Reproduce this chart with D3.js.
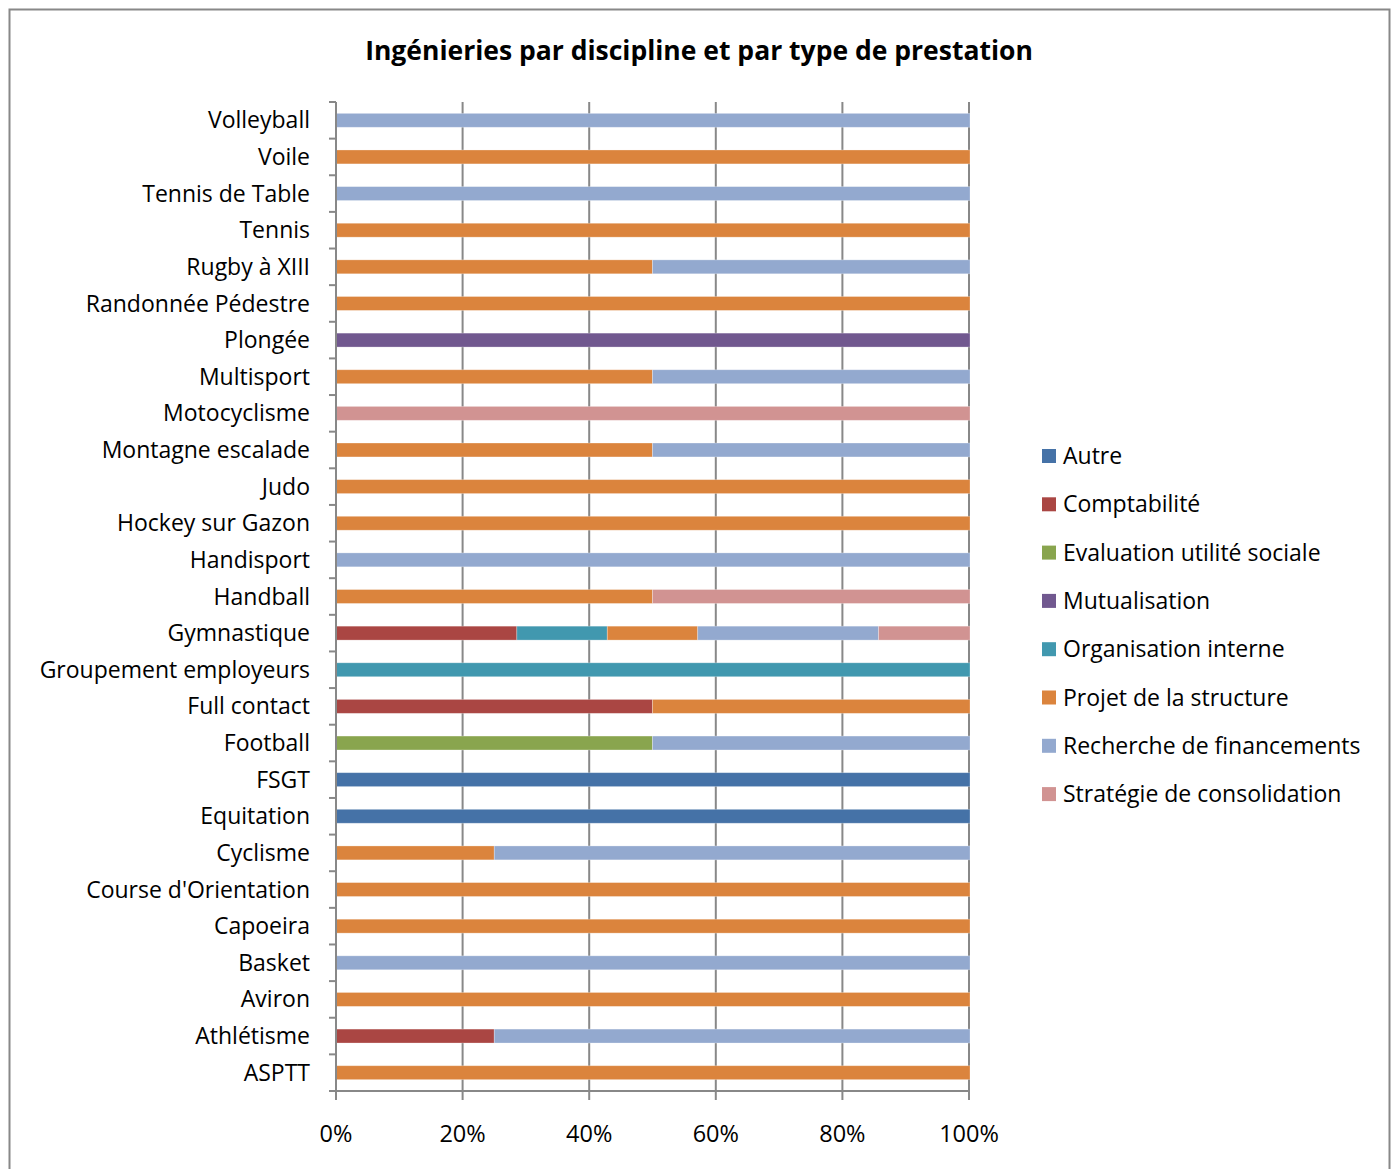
<!DOCTYPE html>
<html><head><meta charset="utf-8">
<script src="https://cdn.jsdelivr.net/npm/d3@7"></script>
<style>body{margin:0;background:#fff;} svg{display:block;}</style>
</head><body>
<svg id="c" width="1397" height="1169"></svg>
<script>
// Categories, top to bottom as drawn
const categories = ["Volleyball","Voile","Tennis de Table","Tennis","Rugby à XIII","Randonnée Pédestre","Plongée","Multisport","Motocyclisme","Montagne escalade","Judo","Hockey sur Gazon","Handisport","Handball","Gymnastique","Groupement employeurs","Full contact","Football","FSGT","Equitation","Cyclisme","Course d'Orientation","Capoeira","Basket","Aviron","Athlétisme","ASPTT"];
const seriesNames = ["Autre","Comptabilité","Evaluation utilité sociale","Mutualisation","Organisation interne","Projet de la structure","Recherche de financements","Stratégie de consolidation"];
// counts per category (same order as categories)
const autre          = [0,0,0,0,0,0,0,0,0,0,0,0,0,0,0,0,0,0,1,1,0,0,0,0,0,0,0];
const comptabilite   = [0,0,0,0,0,0,0,0,0,0,0,0,0,0,2,0,1,0,0,0,0,0,0,0,0,1,0];
const evaluation     = [0,0,0,0,0,0,0,0,0,0,0,0,0,0,0,0,0,1,0,0,0,0,0,0,0,0,0];
const mutualisation  = [0,0,0,0,0,0,1,0,0,0,0,0,0,0,0,0,0,0,0,0,0,0,0,0,0,0,0];
const organisation   = [0,0,0,0,0,0,0,0,0,0,0,0,0,0,1,1,0,0,0,0,0,0,0,0,0,0,0];
const projet         = [0,1,0,1,1,1,0,1,0,1,1,1,0,1,1,0,1,0,0,0,1,1,1,0,1,0,1];
const recherche      = [1,0,1,0,1,0,0,1,0,1,0,0,1,0,2,0,0,1,0,0,3,0,0,1,0,3,0];
const strategie      = [0,0,0,0,0,0,0,0,1,0,0,0,0,1,1,0,0,0,0,0,0,0,0,0,0,0,0];
const seriesValues = [autre,comptabilite,evaluation,mutualisation,organisation,projet,recherche,strategie];
const colors = ["#4572A7","#AA4643","#89A54E","#71588F","#4198AF","#DB843D","#93A9CF","#D19392"];
const xTicks = [0,0.2,0.4,0.6,0.8,1];

(function(){
const svg = d3.select("#c");
const font = "'Open Sans', sans-serif";
svg.append("rect").attr("x",9.5).attr("y",9.5).attr("width",1380).attr("height",1170)
  .attr("fill","#fff").attr("stroke","#888").attr("stroke-width",2);

svg.append("text").attr("x",699).attr("y",60).attr("text-anchor","middle")
  .attr("font-family",font).attr("font-weight","bold").attr("font-size",26.5)
  .attr("fill","#000").text("Ingénieries par discipline et par type de prestation");

const pl=336, pr=969, pt=102, pb=1091;
const x = d3.scaleLinear().domain([0,1]).range([pl,pr]);
const y = d3.scaleBand().domain(categories).range([pt,pb]).paddingInner(0.62).paddingOuter(0.31);
const yb = d3.scaleBand().domain(categories).range([pt,pb]);

const table = categories.map((c,i)=>{const o={cat:c}; seriesNames.forEach((s,j)=>o[s]=seriesValues[j][i]); return o;});
const stack = d3.stack().keys(seriesNames).offset(d3.stackOffsetExpand)(table);

svg.append("g").selectAll("line").data(xTicks.slice(1)).join("line")
  .attr("x1",d=>x(d)).attr("x2",d=>x(d)).attr("y1",pt).attr("y2",pb)
  .attr("stroke","#888").attr("stroke-width",2);

svg.append("g").selectAll("g").data(stack).join("g")
  .attr("fill",(d,i)=>colors[i])
  .selectAll("rect").data(d=>d.filter(p=>p[1]-p[0]>0)).join("rect")
  .attr("x",d=>x(d[0])).attr("width",d=>x(d[1])-x(d[0])+(d[1]>=1?1:0))
  .attr("y",d=>y(d.data.cat)).attr("height",y.bandwidth())
  .attr("stroke","rgba(255,255,255,0.35)").attr("stroke-width",0.8);

const boundaries = categories.map(c=>yb(c)).concat([pb]);
svg.append("line").attr("x1",pl).attr("x2",pl).attr("y1",pt).attr("y2",pb+9).attr("stroke","#888").attr("stroke-width",2);
svg.append("g").selectAll("line").data(boundaries).join("line")
  .attr("x1",329).attr("x2",pl).attr("y1",d=>d).attr("y2",d=>d).attr("stroke","#888").attr("stroke-width",2);
svg.append("line").attr("x1",pl).attr("x2",pr+1).attr("y1",pb).attr("y2",pb).attr("stroke","#888").attr("stroke-width",2);
svg.append("g").selectAll("line").data(xTicks).join("line")
  .attr("x1",d=>x(d)).attr("x2",d=>x(d)).attr("y1",pb).attr("y2",pb+9).attr("stroke","#888").attr("stroke-width",2);

svg.append("g").selectAll("text").data(categories).join("text")
  .attr("x",310).attr("y",d=>yb(d)+yb.bandwidth()/2).attr("dy","0.35em")
  .attr("text-anchor","end").attr("font-family",font).attr("font-size",23).attr("fill","#000").text(d=>d);
svg.append("g").selectAll("text").data(xTicks).join("text")
  .attr("x",d=>x(d)).attr("y",1134).attr("dy","0.35em")
  .attr("text-anchor","middle").attr("font-family",font).attr("font-size",23.5).attr("fill","#000").text(d3.format(".0%"));

const lg = svg.append("g");
seriesNames.forEach((s,i)=>{
  const cy = 456 + i*48.3;
  lg.append("rect").attr("x",1042).attr("y",cy-7).attr("width",14).attr("height",14).attr("fill",colors[i]);
  lg.append("text").attr("x",1063).attr("y",cy).attr("dy","0.35em").attr("font-family",font).attr("font-size",23).attr("fill","#000").text(s);
});
})();
</script>
</body></html>
